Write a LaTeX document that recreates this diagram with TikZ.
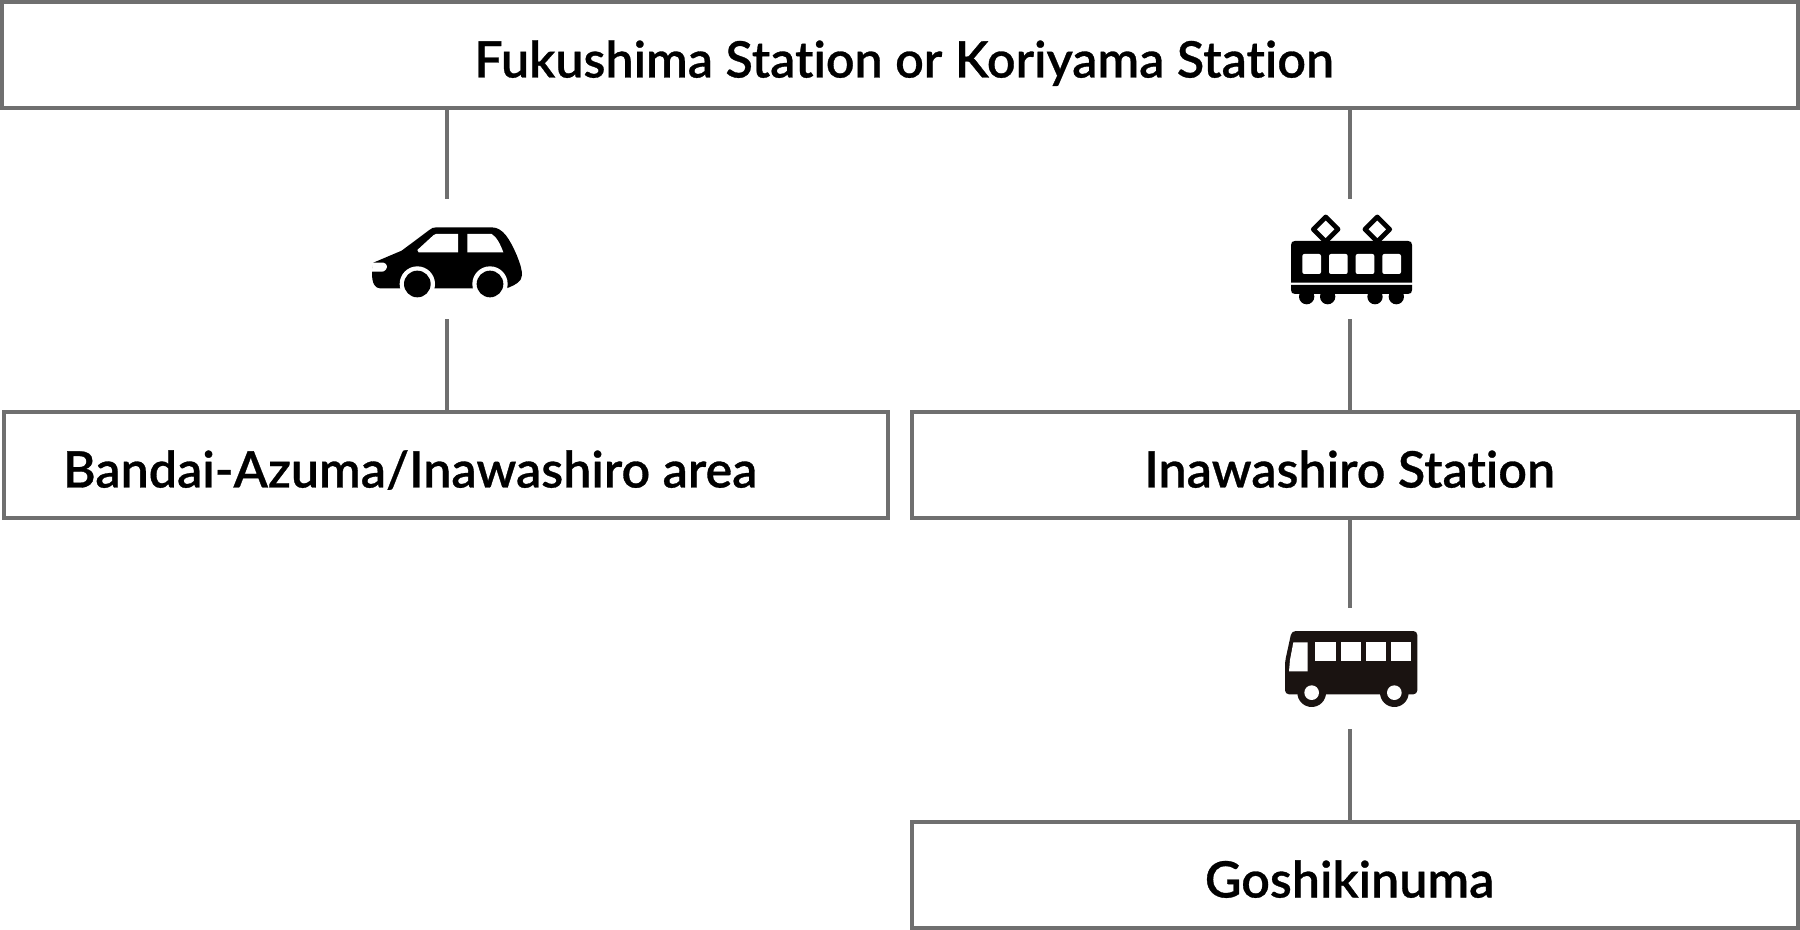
\documentclass[tikz,border=0pt]{standalone}
\usepackage{fontspec}
\setmainfont{Lato}[BoldFont={Lato Semibold},BoldFeatures={FakeBold=0.6},RawFeature={-liga;-dlig}]
\usetikzlibrary{positioning}

\definecolor{framegray}{HTML}{6F6F6F}
\definecolor{busblack}{HTML}{1A1311}

\begin{document}
\begin{tikzpicture}[
  x=0.5pt, y=-0.5pt,
  font=\fontsize{25.1}{28}\selectfont\bfseries,
  place/.style={draw=framegray, line width=2pt, inner sep=0pt, minimum height=53pt, text height=22.5pt, text depth=0pt, text=black},
  icon/.style={inner sep=0pt, minimum width=66pt, minimum height=60pt},
  link/.style={draw=framegray, line width=2pt},
  ink/.style={fill=black, draw=none},
  paper/.style={fill=white, draw=none}
]
\useasboundingbox (0,0) rectangle (1800,930);

\node[place, minimum width=898pt] (fukushima) at (900,55) {\hspace{4pt}Fukushima Station or Koriyama Station};
\node[place, minimum width=442pt] (bandai) at (446,465) {\hspace{-36pt}Bandai-Azuma/Inawashiro area};
\node[place, minimum width=443pt] (inawashiro) at (1355,465) {\hspace{-5.4pt}Inawashiro Station};
\node[place, minimum width=443pt] (goshikinuma) at (1355,875) {\hspace{-5.4pt}Goshikinuma};

\node[icon] (car) at (447,259) {};
\node[icon] (train) at (1350,259) {};
\node[icon, minimum height=60.5pt] (bus) at (1350,668.5) {};

\draw[link] (fukushima.south -| car) -- (car.north);
\draw[link] (car.south) -- (bandai.north -| car);
\draw[link] (fukushima.south -| train) -- (train.north);
\draw[link] (train.south) -- (inawashiro.north -| train);
\draw[link] (inawashiro.south -| bus) -- (bus.north);
\draw[link] (bus.south) -- (goshikinuma.north -| bus);

% car
\begin{scope}[shift={(340,190)}, scale=1/3]
  \path[ink] (96,250) -- (100,218) -- (185,182) -- (268,120) .. controls (275,114) and (280,112) .. (290,112)
    -- (455,112) .. controls (490,112) and (510,150) .. (530,195) .. controls (542,225) and (546,240) .. (546,255)
    .. controls (546,275) and (525,285) .. (505,293) -- (500,295) -- (120,295) .. controls (105,295) and (96,280) .. (96,250) -- cycle;
  \path[paper] (232,282) circle (53);
  \path[paper] (450,282) circle (53);
  \path[ink] (232,282) circle (40);
  \path[ink] (450,282) circle (40);
  \path[paper] (98,218) -- (130,218) .. controls (140,220) and (144,230) .. (138,238) .. controls (134,244) and (130,245) .. (125,245) -- (96,245) -- cycle;
  \path[paper] (232,180) -- (280,136) -- (288,132) -- (354,132) -- (354,187) -- (236,187) -- cycle;
  \path[paper] (382,132) -- (455,132) .. controls (470,140) and (482,165) .. (490,187) -- (382,187) -- cycle;
\end{scope}

% train
\begin{scope}[shift={(1260,190)}, scale=1/3]
  \foreach \px in {197,352}
    \draw[black, line width=2.4pt, line join=round] (\px,81) -- (\px+37,118) -- (\px,155) -- (\px-37,118) -- cycle;
  \foreach \wx in {140,203,345,409}
    \path[ink] (\wx,320) circle (23);
  \path[ink] (93,278) -- (93,165) .. controls (93,157) and (97,153) .. (105,153) -- (444,153) .. controls (452,153) and (456,157) .. (456,165) -- (456,278) -- cycle;
  \path[ink] (93,285) -- (93,300) .. controls (93,308) and (97,312) .. (105,312) -- (444,312) .. controls (452,312) and (456,308) .. (456,300) -- (456,285) -- cycle;
  \foreach \wx in {127,207,287,367}
    \path[paper, rounded corners=1pt] (\wx,192) rectangle (\wx+56,252);
\end{scope}

% bus
\begin{scope}[shift={(1260,610)}, scale=1/3]
  \path[fill=busblack, rounded corners=2pt] (75,253) -- (75,155) -- (95,63) -- (472,63) -- (472,253) -- cycle;
  \foreach \wx in {155,403} {
    \path[fill=busblack] (\wx,248) circle (43);
    \path[paper] (\wx,248) circle (22);
  }
  \path[paper] (100,97) -- (143,97) -- (143,184) -- (87,184) -- (90,150) -- cycle;
  \foreach \wx/\wr in {165/228,242/303,317/378,392/452}
    \path[paper] (\wx,97) rectangle (\wr,152);
\end{scope}
\end{tikzpicture}
\end{document}
